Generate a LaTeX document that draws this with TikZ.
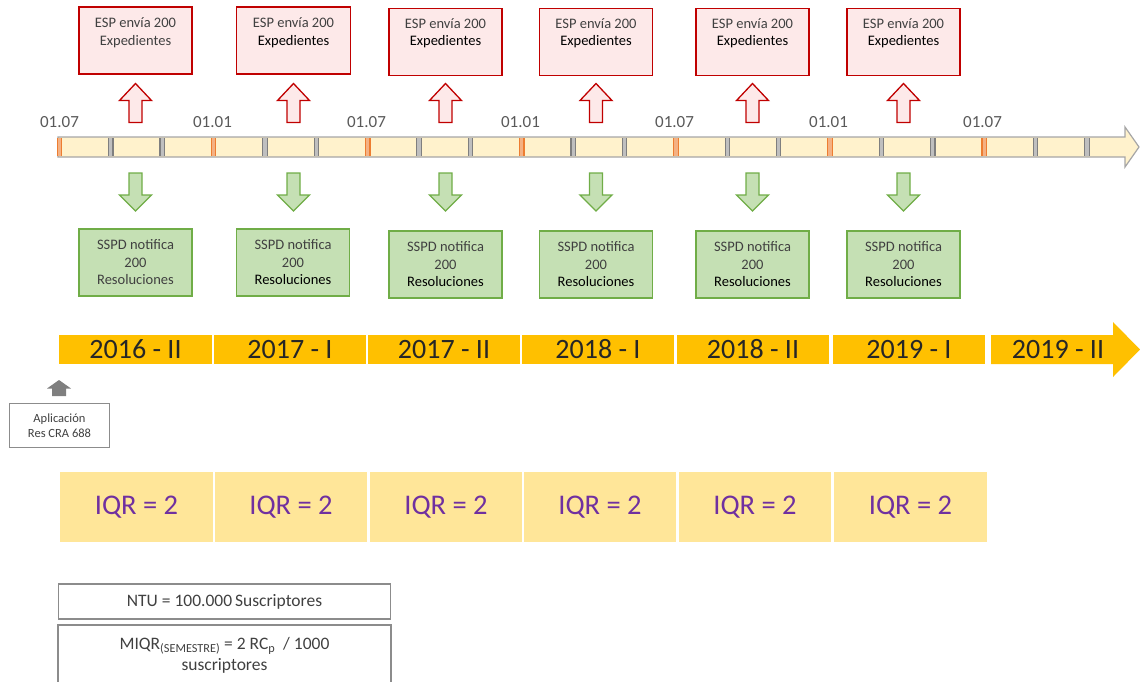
\documentclass[tikz,border=0pt]{standalone}
\usepackage{fontspec}
\setmainfont{Carlito}
\definecolor{redb}{HTML}{C00000}
\definecolor{redf}{HTML}{FDE9E9}
\definecolor{greenb}{HTML}{70AD47}
\definecolor{greenf}{HTML}{C5E0B4}
\definecolor{tlf}{HTML}{FFF2CC}
\definecolor{tlb}{HTML}{A6A6A6}
\definecolor{orng}{HTML}{ED7D31}
\definecolor{orngl}{HTML}{F4B183}
\definecolor{tickg}{HTML}{7F7F7F}
\definecolor{tickgl}{HTML}{BFBFBF}
\definecolor{semf}{HTML}{FFC000}
\definecolor{iqrf}{HTML}{FFE699}
\definecolor{purp}{HTML}{7030A0}
\definecolor{txtg}{HTML}{404040}
\definecolor{lblg}{HTML}{595959}
\definecolor{boxg}{HTML}{8C8C8C}
\tikzset{
  espbox/.style={draw=redb, fill=redf, line width=1.3pt, minimum width=113pt, minimum height=67pt, inner sep=0pt},
  sspdbox/.style={draw=greenb, fill=greenf, line width=1.3pt, minimum width=113pt, minimum height=67pt, inner sep=0pt},
  boxtext/.style={align=center, font=\fontsize{14.5}{17.5}\selectfont, text=txtg, inner sep=0pt},
  datelbl/.style={font=\fontsize{17}{20}\selectfont, text=lblg, inner sep=0pt},
  sembox/.style={fill=semf, inner sep=0pt, minimum height=29pt},
  semtext/.style={font=\fontsize{28}{32}\selectfont, text=black!85, inner sep=0pt},
  iqrbox/.style={fill=iqrf, inner sep=0pt, minimum height=70pt, font=\fontsize{28.5}{32}\selectfont, text=purp},
  infobox/.style={draw=boxg, line width=1.5pt, inner sep=0pt},
  uparrow/.pic={\path[pic actions] (-16,-2.5) -- (0,-19.5) -- (16,-2.5) -- (6.5,-2.5) -- (6.5,19.5) -- (-6.5,19.5) -- (-6.5,-2.5) -- cycle;},
  downarrow/.pic={\path[pic actions] (-16,3) -- (0,19) -- (16,3) -- (6.5,3) -- (6.5,-19) -- (-6.5,-19) -- (-6.5,3) -- cycle;},
}
\begin{document}
\begin{tikzpicture}[x=1pt,y=-1pt]
\useasboundingbox (0,0) rectangle (1140,681);

% ---- timeline bar ----
\draw[draw=tlb, fill=tlf, line width=1.2pt, line join=miter]
  (58,137) -- (1125,137) -- (1125,127) -- (1139,147) -- (1125,167) -- (1125,157) -- (58,157) -- cycle;
\foreach \i in {0,...,20}{
  \pgfmathsetmacro\xx{59.5+51.37*\i}
  \pgfmathtruncatemacro\m{mod(\i,3)}
  \ifnum\m=0
    \fill[orngl] (\xx-2.2,138) rectangle (\xx+2.2,156);
    \draw[orng, line width=1.2pt] (\xx-2.2,138) -- (\xx-2.2,156) (\xx+2.2,138) -- (\xx+2.2,156);
  \else
    \fill[tickgl] (\xx-2.2,138) rectangle (\xx+2.2,156);
    \draw[tickg, line width=1.2pt] (\xx-2.2,138) -- (\xx-2.2,156) (\xx+2.2,138) -- (\xx+2.2,156);
  \fi
}
\node[datelbl] (d1) at (59.5,122) {01.07};
\node[datelbl] (d2) at (212.5,122) {01.01};
\node[datelbl] (d3) at (366.5,122) {01.07};
\node[datelbl] (d4) at (520.5,122) {01.01};
\node[datelbl] (d5) at (674.5,122) {01.07};
\node[datelbl] (d6) at (828.5,122) {01.01};
\node[datelbl] (d7) at (982.5,122) {01.07};

% ---- ESP boxes ----
\node[espbox] (esp1) at (135.5,40.5) {};
\node[boxtext] (esp1t) at (135.5,32.5) {ESP envía 200\\Expedientes};
\node[espbox, minimum width=114pt] (esp2) at (293.5,40.5) {};
\node[boxtext] (esp2t) at (293.5,32.5) {ESP envía 200\\\textcolor{black}{Expedientes}};
\node[espbox] (esp3) at (445.5,42) {};
\node[boxtext] (esp3t) at (445.5,33) {ESP envía 200\\\textcolor{black}{Expedientes}};
\node[espbox] (esp4) at (596,42) {};
\node[boxtext] (esp4t) at (596,33) {ESP envía 200\\\textcolor{black}{Expedientes}};
\node[espbox] (esp5) at (752.5,42) {};
\node[boxtext] (esp5t) at (752.5,33) {ESP envía 200\\\textcolor{black}{Expedientes}};
\node[espbox] (esp6) at (903.5,42) {};
\node[boxtext] (esp6t) at (903.5,33) {ESP envía 200\\\textcolor{black}{Expedientes}};

% ---- red up arrows ----
\foreach \x in {135.5,293.5,445.5,596,752.5,903.5}{
  \pic[draw=redb, fill=redf, line width=1.3pt] at (\x,103) {uparrow};
}
% ---- green down arrows ----
\foreach \x in {135.5,293.5,445.5,596,752.5,903.5}{
  \pic[draw=greenb, fill=greenf, line width=1.3pt] at (\x,192) {downarrow};
}

% ---- SSPD boxes ----
\node[sspdbox] (sspd1) at (135.5,262.5) {};
\node[boxtext] (sspd1t) at (135.5,262.5) {SSPD notifica\\200\\Resoluciones};
\node[sspdbox] (sspd2) at (293,262.5) {};
\node[boxtext] (sspd2t) at (293,262.5) {SSPD notifica\\200\\\textcolor{black}{Resoluciones}};
\node[sspdbox] (sspd3) at (445.5,264.5) {};
\node[boxtext] (sspd3t) at (445.5,264.5) {SSPD notifica\\200\\\textcolor{black}{Resoluciones}};
\node[sspdbox] (sspd4) at (596,264.5) {};
\node[boxtext] (sspd4t) at (596,264.5) {SSPD notifica\\200\\\textcolor{black}{Resoluciones}};
\node[sspdbox] (sspd5) at (752.5,264.5) {};
\node[boxtext] (sspd5t) at (752.5,264.5) {SSPD notifica\\200\\\textcolor{black}{Resoluciones}};
\node[sspdbox] (sspd6) at (903.5,264.5) {};
\node[boxtext] (sspd6t) at (903.5,264.5) {SSPD notifica\\200\\\textcolor{black}{Resoluciones}};

% ---- semester bar ----
\node[sembox, minimum width=153pt] (s1) at (135.5,349.5) {};
\node[semtext] (s1t) at (135.5,349.5) {2016 - II};
\node[sembox, minimum width=152pt] (s2) at (290,349.5) {};
\node[semtext] (s2t) at (290,349.5) {2017 - I};
\node[sembox, minimum width=152pt] (s3) at (444,349.5) {};
\node[semtext] (s3t) at (444,349.5) {2017 - II};
\node[sembox, minimum width=152pt] (s4) at (598,349.5) {};
\node[semtext] (s4t) at (598,349.5) {2018 - I};
\node[sembox, minimum width=152pt] (s5) at (753,349.5) {};
\node[semtext] (s5t) at (753,349.5) {2018 - II};
\node[sembox, minimum width=152pt] (s6) at (909,349.5) {};
\node[semtext] (s6t) at (909,349.5) {2019 - I};
\fill[semf] (991,335) -- (1113,335) -- (1113,322) -- (1140,349.5) -- (1113,377) -- (1113,364) -- (991,364) -- cycle;
\node[semtext] (s7t) at (1058,349.5) {2019 - II};

% ---- application marker ----
\fill[tickg] (47,388.5) -- (59,380) -- (71,388.5) -- (66,388.5) -- (66,396) -- (52,396) -- (52,388.5) -- cycle;
\node[infobox, minimum width=100pt, minimum height=44pt, align=center,
      font=\fontsize{12.5}{15.5}\selectfont, text=txtg] (apl) at (59.5,425.5) {Aplicación\\Res CRA 688};

% ---- IQR boxes ----
\node[iqrbox, minimum width=153pt] (q1) at (136.5,507) {IQR = 2};
\node[iqrbox, minimum width=152pt] (q2) at (291,507) {IQR = 2};
\node[iqrbox, minimum width=152pt] (q3) at (446,507) {IQR = 2};
\node[iqrbox, minimum width=152pt] (q4) at (600,507) {IQR = 2};
\node[iqrbox, minimum width=152pt] (q5) at (755,507) {IQR = 2};
\node[iqrbox, minimum width=153pt] (q6) at (910.5,507) {IQR = 2};

% ---- bottom info boxes ----
\node[infobox, minimum width=332pt, minimum height=35pt,
      font=\fontsize{17.5}{21}\selectfont, text=txtg] (ntu) at (224.5,601.5) {NTU = 100.000\,Suscriptores};
\draw[boxg, line width=1.5pt] (58,690) -- (58,625) -- (391,625) -- (391,690);
\node[align=center, font=\fontsize{17.5}{21}\selectfont, text=txtg, inner sep=0pt] (miqr) at (224.5,655.5)
  {MIQR\textsubscript{(SEMESTRE)} = 2 RC\textsubscript{p}~ / 1000\\suscriptores};
\end{tikzpicture}
\end{document}
